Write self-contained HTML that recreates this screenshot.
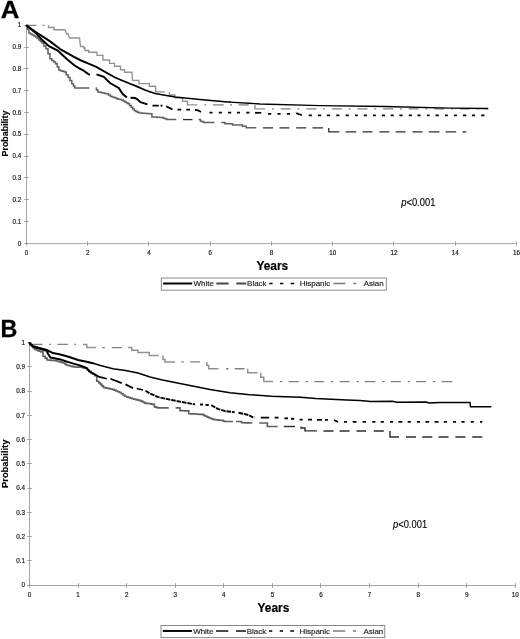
<!DOCTYPE html>
<html><head><meta charset="utf-8"><title>Figure</title>
<style>
html,body{margin:0;padding:0;background:#fff;}
body{width:520px;height:639px;overflow:hidden;font-family:"Liberation Sans",sans-serif;}
svg{display:block;font-family:"Liberation Sans",sans-serif;}
</style></head>
<body>
<svg width="520" height="639" viewBox="0 0 520 639">
<defs><filter id="soft" x="0" y="0" width="520" height="639" filterUnits="userSpaceOnUse"><feGaussianBlur stdDeviation="0.38"/></filter></defs>
<rect x="0" y="0" width="520" height="639" fill="#fff"/>
<g filter="url(#soft)">
<text transform="translate(0.7,17.6) scale(1.1,1)" font-size="23.4" font-weight="bold" fill="#000" stroke="#000" stroke-width="0.3">A</text>
<path d="M26.5,25.5 V243.6 H516.4" fill="none" stroke="#909090" stroke-width="0.8"/>
<path d="M24.2,243.50 H28.8" stroke="#909090" stroke-width="0.8"/>
<text x="21.3" y="245.50" text-anchor="end" font-size="6.3" fill="#1a1a1a" stroke="#1a1a1a" stroke-width="0.18">0</text>
<path d="M24.2,221.50 H28.8" stroke="#909090" stroke-width="0.8"/>
<text x="21.3" y="223.69" text-anchor="end" font-size="6.3" fill="#1a1a1a" stroke="#1a1a1a" stroke-width="0.18">0.1</text>
<path d="M24.2,199.50 H28.8" stroke="#909090" stroke-width="0.8"/>
<text x="21.3" y="201.88" text-anchor="end" font-size="6.3" fill="#1a1a1a" stroke="#1a1a1a" stroke-width="0.18">0.2</text>
<path d="M24.2,177.50 H28.8" stroke="#909090" stroke-width="0.8"/>
<text x="21.3" y="180.07" text-anchor="end" font-size="6.3" fill="#1a1a1a" stroke="#1a1a1a" stroke-width="0.18">0.3</text>
<path d="M24.2,156.50 H28.8" stroke="#909090" stroke-width="0.8"/>
<text x="21.3" y="158.26" text-anchor="end" font-size="6.3" fill="#1a1a1a" stroke="#1a1a1a" stroke-width="0.18">0.4</text>
<path d="M24.2,134.50 H28.8" stroke="#909090" stroke-width="0.8"/>
<text x="21.3" y="136.45" text-anchor="end" font-size="6.3" fill="#1a1a1a" stroke="#1a1a1a" stroke-width="0.18">0.5</text>
<path d="M24.2,112.50 H28.8" stroke="#909090" stroke-width="0.8"/>
<text x="21.3" y="114.64" text-anchor="end" font-size="6.3" fill="#1a1a1a" stroke="#1a1a1a" stroke-width="0.18">0.6</text>
<path d="M24.2,90.50 H28.8" stroke="#909090" stroke-width="0.8"/>
<text x="21.3" y="92.83" text-anchor="end" font-size="6.3" fill="#1a1a1a" stroke="#1a1a1a" stroke-width="0.18">0.7</text>
<path d="M24.2,68.50 H28.8" stroke="#909090" stroke-width="0.8"/>
<text x="21.3" y="71.02" text-anchor="end" font-size="6.3" fill="#1a1a1a" stroke="#1a1a1a" stroke-width="0.18">0.8</text>
<path d="M24.2,47.50 H28.8" stroke="#909090" stroke-width="0.8"/>
<text x="21.3" y="49.21" text-anchor="end" font-size="6.3" fill="#1a1a1a" stroke="#1a1a1a" stroke-width="0.18">0.9</text>
<path d="M24.2,25.50 H28.8" stroke="#909090" stroke-width="0.8"/>
<text x="21.3" y="27.40" text-anchor="end" font-size="6.3" fill="#1a1a1a" stroke="#1a1a1a" stroke-width="0.18">1</text>
<path d="M26.50,241.29999999999998 V245.9" stroke="#909090" stroke-width="0.8"/>
<text x="26.50" y="255.1" text-anchor="middle" font-size="6.3" fill="#1a1a1a" stroke="#1a1a1a" stroke-width="0.18">0</text>
<path d="M87.50,241.29999999999998 V245.9" stroke="#909090" stroke-width="0.8"/>
<text x="87.74" y="255.1" text-anchor="middle" font-size="6.3" fill="#1a1a1a" stroke="#1a1a1a" stroke-width="0.18">2</text>
<path d="M148.50,241.29999999999998 V245.9" stroke="#909090" stroke-width="0.8"/>
<text x="148.97" y="255.1" text-anchor="middle" font-size="6.3" fill="#1a1a1a" stroke="#1a1a1a" stroke-width="0.18">4</text>
<path d="M210.50,241.29999999999998 V245.9" stroke="#909090" stroke-width="0.8"/>
<text x="210.21" y="255.1" text-anchor="middle" font-size="6.3" fill="#1a1a1a" stroke="#1a1a1a" stroke-width="0.18">6</text>
<path d="M271.50,241.29999999999998 V245.9" stroke="#909090" stroke-width="0.8"/>
<text x="271.45" y="255.1" text-anchor="middle" font-size="6.3" fill="#1a1a1a" stroke="#1a1a1a" stroke-width="0.18">8</text>
<path d="M332.50,241.29999999999998 V245.9" stroke="#909090" stroke-width="0.8"/>
<text x="332.69" y="255.1" text-anchor="middle" font-size="6.3" fill="#1a1a1a" stroke="#1a1a1a" stroke-width="0.18">10</text>
<path d="M393.50,241.29999999999998 V245.9" stroke="#909090" stroke-width="0.8"/>
<text x="393.92" y="255.1" text-anchor="middle" font-size="6.3" fill="#1a1a1a" stroke="#1a1a1a" stroke-width="0.18">12</text>
<path d="M455.50,241.29999999999998 V245.9" stroke="#909090" stroke-width="0.8"/>
<text x="455.16" y="255.1" text-anchor="middle" font-size="6.3" fill="#1a1a1a" stroke="#1a1a1a" stroke-width="0.18">14</text>
<path d="M516.50,241.29999999999998 V245.9" stroke="#909090" stroke-width="0.8"/>
<text x="516.40" y="255.1" text-anchor="middle" font-size="6.3" fill="#1a1a1a" stroke="#1a1a1a" stroke-width="0.18">16</text>
<path d="M26.50,25.30 H36.30 M42.50,25.30 H44.50" fill="none" stroke="#808080" stroke-width="1.3" stroke-linejoin="miter" />
<path d="M48.50,25.30 L48.50,27.50 L54.00,27.50 L54.00,29.75 L65.00,29.75 L66.50,33.75 L68.00,33.75 L69.50,38.00 L79.50,38.00 L80.50,46.50 L83.75,46.50 L83.75,48.00 L85.00,48.00 L85.00,50.50 L88.75,50.50 L88.75,52.20 L97.00,52.20 L97.00,55.30 L103.00,55.30 L103.00,60.00 L109.50,60.00 L109.50,63.40 L114.50,63.40 L114.50,66.20 L120.50,66.20 L120.50,69.70 L124.50,69.70 L124.50,72.20 L132.00,72.20 L132.50,80.30 L139.00,80.30 L139.00,83.60 L149.40,83.60 L149.40,86.25 L155.60,86.25 L155.60,91.90 L165.00,91.90" fill="none" stroke="#929292" stroke-width="1.35" stroke-linejoin="miter" />
<path d="M169.40,91.90 L169.40,95.00 L175.00,95.00 L175.00,97.75 L182.50,97.75 L182.50,101.25 L187.50,101.25 L187.50,104.90 L197.50,104.90" fill="none" stroke="#929292" stroke-width="1.35" stroke-linejoin="miter" />
<path d="M204.40,104.90 H206.25 M213.00,104.90 H223.75 M230.00,104.90 H232.00 M238.75,104.90 H248.75" fill="none" stroke="#808080" stroke-width="1.3" stroke-linejoin="miter" />
<path d="M255.00,104.90 L255.00,108.90 L265.00,108.90" fill="none" stroke="#929292" stroke-width="1.35" stroke-linejoin="miter" />
<path d="M271.90,108.90 H273.90 M280.70,108.90 H290.70 M297.50,108.90 H299.50 M306.30,108.90 H316.30 M323.10,108.90 H325.10 M331.90,108.90 H341.90 M348.70,108.90 H350.70 M357.50,108.90 H367.50 M374.30,108.90 H376.30 M383.10,108.90 H393.10 M399.90,108.90 H401.90 M408.70,108.90 H418.70 M425.50,108.90 H427.50 M434.30,108.90 H444.30 M451.10,108.90 H453.10 M459.90,108.90 H469.90 M476.70,108.90 H478.70 M485.50,108.90 H487.50" fill="none" stroke="#808080" stroke-width="1.3" stroke-linejoin="miter" />
<path d="M26.50,25.50 L27.27,25.50 L27.27,29.25 L28.83,29.25 L28.83,33.00 L29.60,33.00 L30.46,33.00 L30.46,33.98 L32.19,33.98 L32.19,34.95 L33.91,34.95 L33.91,35.92 L35.64,35.92 L35.64,36.90 L36.50,36.90 L37.28,36.90 L37.28,38.45 L38.84,38.45 L38.84,40.00 L40.41,40.00 L40.41,41.55 L41.97,41.55 L41.97,43.10 L42.75,43.10 L43.81,43.10 L43.81,45.92 L45.94,45.92 L45.94,48.75 L47.00,48.75 L47.98,48.75 L47.98,53.75 L49.92,53.75 L49.92,58.75 L50.90,58.75 L51.83,58.75 L51.83,60.42 L53.70,60.42 L53.70,62.08 L55.57,62.08 L55.57,63.75 L56.50,63.75 L57.27,63.75 L57.27,66.88 L58.83,66.88 L58.83,70.00 L59.60,70.00 L60.54,70.00 L60.54,70.63 L62.42,70.63 L62.42,71.27 L64.31,71.27 L64.31,71.90 L65.25,71.90 L66.19,71.90 L66.19,74.70 L68.06,74.70 L68.06,77.50 L69.00,77.50 L69.94,77.50 L69.94,80.62 L71.81,80.62 L71.81,83.75 L72.75,83.75 L73.44,83.75 L73.44,85.88 L74.81,85.88 L74.81,88.00 L75.50,88.00 L89.40,88.00" fill="none" stroke="#606060" stroke-width="1.5" stroke-linejoin="miter" />
<path d="M95.60,88.00 L96.39,88.00 L96.39,89.95 L97.96,89.95 L97.96,91.90 L98.75,91.90 L99.62,91.90 L99.62,92.27 L101.38,92.27 L101.38,92.64 L103.12,92.64 L103.12,93.01 L104.88,93.01 L104.88,93.38 L106.62,93.38 L106.62,93.75 L107.50,93.75 L108.44,93.75 L108.44,95.00 L110.31,95.00 L110.31,96.25 L111.25,96.25 L112.03,96.25 L112.03,96.88 L113.59,96.88 L113.59,97.50 L115.16,97.50 L115.16,98.12 L116.72,98.12 L116.72,98.75 L117.50,98.75 L118.33,98.75 L118.33,99.17 L120.00,99.17 L120.00,99.58 L121.67,99.58 L121.67,100.00 L122.50,100.00 L123.28,100.00 L123.28,100.94 L124.84,100.94 L124.84,101.88 L126.41,101.88 L126.41,102.81 L127.97,102.81 L127.97,103.75 L128.75,103.75 L129.53,103.75 L129.53,105.46 L131.09,105.46 L131.09,107.17 L132.66,107.17 L132.66,108.89 L134.22,108.89 L134.22,110.60 L135.00,110.60 L135.83,110.60 L135.83,111.40 L137.50,111.40 L137.50,112.20 L139.17,112.20 L139.17,113.00 L140.00,113.00 L140.80,113.00 L140.80,113.11 L142.41,113.11 L142.41,113.21 L144.02,113.21 L144.02,113.32 L145.62,113.32 L145.62,113.43 L147.23,113.43 L147.23,113.54 L148.84,113.54 L148.84,113.64 L150.45,113.64 L150.45,113.75 L151.25,113.75 L151.88,113.75 L151.88,116.90 L152.50,116.90 L153.33,116.90 L153.33,117.00 L155.00,117.00 L155.00,117.10 L156.67,117.10 L156.67,117.20 L158.33,117.20 L158.33,117.30 L160.00,117.30 L160.00,117.40 L161.67,117.40 L161.67,117.50 L162.50,117.50 L163.33,117.50 L163.33,118.13 L165.00,118.13 L165.00,118.77 L166.67,118.77 L166.67,119.40 L167.50,119.40 L176.25,119.60" fill="none" stroke="#606060" stroke-width="1.5" stroke-linejoin="miter" />
<path d="M183.00,119.60 H192.50" fill="none" stroke="#2c2c2c" stroke-width="1.3" stroke-linejoin="miter" />
<path d="M198.75,119.60 L199.40,119.60 L200.45,119.60 L200.45,121.20 L201.50,121.20 L202.22,121.20 L202.22,121.85 L203.68,121.85 L203.68,122.50 L204.40,122.50 L214.40,122.50" fill="none" stroke="#606060" stroke-width="1.5" stroke-linejoin="miter" />
<path d="M221.25,122.50 L225.00,122.50 L225.00,123.75 L232.50,123.75 L232.50,125.00 L242.50,125.00 L242.50,126.25 L246.25,126.25 L246.25,127.80 L256.25,127.80" fill="none" stroke="#606060" stroke-width="1.5" stroke-linejoin="miter" />
<path d="M263.00,127.90 H273.00 M279.40,127.90 H289.40 M296.25,127.90 H306.25 M312.50,127.90 H323.00" fill="none" stroke="#2c2c2c" stroke-width="1.3" stroke-linejoin="miter" />
<path d="M328.75,127.90 L328.75,131.90 L339.40,131.90" fill="none" stroke="#2c2c2c" stroke-width="1.3" stroke-linejoin="miter" />
<path d="M345.60,131.90 H356.25 M362.50,131.90 H372.50 M379.40,131.90 H389.40 M395.60,131.90 H405.60 M412.50,131.90 H422.50 M428.75,131.90 H439.40 M445.60,131.90 H456.25 M462.50,131.90 H466.25" fill="none" stroke="#2c2c2c" stroke-width="1.3" stroke-linejoin="miter" />
<path d="M26.50,25.50 L36.50,33.75 L42.75,40.60 L49.00,46.25 L57.75,50.50 L66.50,58.75 L74.00,65.00 L80.00,68.75 L82.75,70.00 L88.00,73.85" fill="none" stroke="#000" stroke-width="2.0" stroke-linejoin="miter" stroke-linejoin="round"/>
<path d="M88.00,73.85 L88.75,74.40 L90.00,74.60" fill="none" stroke="#000" stroke-width="2.0" stroke-linejoin="miter" stroke-linejoin="round"/>
<path d="M96.50,74.40 L103.75,76.90 L110.00,83.00 L118.75,88.00 L122.50,93.75 L126.90,97.50" fill="none" stroke="#000" stroke-width="2.0" stroke-linejoin="miter" stroke-linejoin="round"/>
<path d="M130.60,97.75 L135.00,98.10 L137.00,99.00 L140.50,102.20 L147.50,104.40" fill="none" stroke="#000" stroke-width="2.0" stroke-linejoin="miter" stroke-linejoin="round"/>
<path d="M152.50,105.60 H158.75 M160.50,105.60 H162.50" fill="none" stroke="#000" stroke-width="1.75" stroke-linejoin="miter" />
<path d="M166.00,106.25 L172.50,109.40" fill="none" stroke="#000" stroke-width="1.8" stroke-linejoin="miter" stroke-linejoin="round"/>
<path d="M177.50,109.60 H181.25 M186.25,109.60 H190.00" fill="none" stroke="#000" stroke-width="1.75" stroke-linejoin="miter" />
<path d="M195.00,109.80 L198.00,110.30 L201.00,112.00" fill="none" stroke="#000" stroke-width="1.8" stroke-linejoin="miter" stroke-linejoin="round"/>
<path d="M209.40,112.50 H212.50 M218.75,112.50 H221.90 M228.00,112.50 H231.25 M236.90,112.50 H240.00 M246.25,112.50 H249.40" fill="none" stroke="#000" stroke-width="1.75" stroke-linejoin="miter" />
<path d="M255.00,112.80 H261.25" fill="none" stroke="#000" stroke-width="1.75" stroke-linejoin="miter" />
<path d="M268.00,113.75 H271.25 M277.50,113.75 H280.60 M286.90,113.75 H290.00" fill="none" stroke="#000" stroke-width="1.75" stroke-linejoin="miter" />
<path d="M296.25,113.10 L301.90,115.25" fill="none" stroke="#000" stroke-width="1.8" stroke-linejoin="miter" stroke-linejoin="round"/>
<path d="M308.75,115.40 H311.90 M318.00,115.40 H321.25 M326.90,115.40 H330.00 M336.25,115.40 H339.40 M345.60,115.40 H348.75 M355.00,115.40 H357.80 M363.75,115.40 H366.90 M373.00,115.40 H375.80 M381.90,115.40 H385.00 M390.60,115.40 H393.75 M399.40,115.40 H402.50 M408.75,115.40 H411.90 M417.50,115.40 H420.60 M426.90,115.40 H429.60 M435.60,115.40 H438.75 M445.00,115.40 H447.80 M454.20,115.40 H456.90 M463.00,115.40 H466.25 M471.90,115.40 H475.00 M481.25,115.40 H484.40" fill="none" stroke="#000" stroke-width="1.75" stroke-linejoin="miter" />
<path d="M26.50,25.50 L36.50,32.50 L49.00,40.60 L61.50,50.00 L74.00,56.90 L80.00,60.00 L85.00,62.12" fill="none" stroke="#000" stroke-width="2.0" stroke-linejoin="miter" stroke-linecap="round" stroke-linejoin="round"/>
<path d="M85.00,62.12 L96.25,66.90 L115.00,77.50 L130.00,83.75 L135.00,85.60 L145.00,90.00 L150.00,91.75" fill="none" stroke="#000" stroke-width="1.8" stroke-linejoin="miter" stroke-linecap="round" stroke-linejoin="round"/>
<path d="M150.00,91.75 L155.00,93.50 L175.00,96.90 L185.00,98.10 L200.00,99.50 L227.50,101.90 L230.00,102.06" fill="none" stroke="#000" stroke-width="1.55" stroke-linejoin="miter" stroke-linecap="round" stroke-linejoin="round"/>
<path d="M230.00,102.06 L260.00,104.00 L320.00,105.60 L385.00,106.50 L450.00,108.10 L487.75,108.50" fill="none" stroke="#000" stroke-width="1.35" stroke-linejoin="miter" stroke-linecap="round" stroke-linejoin="round"/>
<text transform="translate(8.4,133.5) rotate(-90)" text-anchor="middle" font-size="8.9" font-weight="bold" fill="#000" stroke="#000" stroke-width="0.12">Probability</text>
<text x="272.3" y="270" text-anchor="middle" font-size="11.9" font-weight="bold" fill="#000" stroke="#000" stroke-width="0.2">Years</text>
<text transform="translate(401.2,206.4) scale(0.94,1)" font-size="10" fill="#000" stroke="#000" stroke-width="0.12"><tspan font-style="italic">p</tspan>&lt;0.001</text>
<rect x="161.3" y="278" width="225" height="12.2" fill="#fff" stroke="#858585" stroke-width="0.95"/>
<path d="M163.10000000000002,283.5 H192.20000000000002" fill="none" stroke="#000" stroke-width="2.0" stroke-linejoin="miter" />
<text x="193.5" y="286.05" font-size="7.95" fill="#1a1a1a" stroke="#1a1a1a" stroke-width="0.15">White</text>
<path d="M216.3,283.5 H228.60000000000002 M236.3,283.5 H246.3" fill="none" stroke="#484848" stroke-width="1.9" stroke-linejoin="miter" />
<text x="247.10000000000002" y="286.05" font-size="7.95" fill="#1a1a1a" stroke="#1a1a1a" stroke-width="0.15">Black</text>
<path d="M269.3,283.5 H272.6 M280.0,283.5 H283.3 M290.6,283.5 H294.3" fill="none" stroke="#000" stroke-width="1.6" stroke-linejoin="miter" />
<text x="299.8" y="286.05" font-size="7.95" fill="#1a1a1a" stroke="#1a1a1a" stroke-width="0.15">Hispanic</text>
<path d="M333.3,283.5 H345.5 M353.3,283.5 H356.3" fill="none" stroke="#7c7c7c" stroke-width="1.4" stroke-linejoin="miter" />
<text x="363.70000000000005" y="286.05" font-size="7.95" fill="#1a1a1a" stroke="#1a1a1a" stroke-width="0.15">Asian</text>
<text x="0.4" y="336.8" font-size="23.3" font-weight="bold" fill="#000" stroke="#000" stroke-width="0.3">B</text>
<path d="M29.5,343 V585.5 H515.3" fill="none" stroke="#909090" stroke-width="0.8"/>
<path d="M27.2,585.50 H31.8" stroke="#909090" stroke-width="0.8"/>
<text x="24.9" y="587.40" text-anchor="end" font-size="6.3" fill="#1a1a1a" stroke="#1a1a1a" stroke-width="0.18">0</text>
<path d="M27.2,560.50 H31.8" stroke="#909090" stroke-width="0.8"/>
<text x="24.9" y="563.15" text-anchor="end" font-size="6.3" fill="#1a1a1a" stroke="#1a1a1a" stroke-width="0.18">0.1</text>
<path d="M27.2,536.50 H31.8" stroke="#909090" stroke-width="0.8"/>
<text x="24.9" y="538.90" text-anchor="end" font-size="6.3" fill="#1a1a1a" stroke="#1a1a1a" stroke-width="0.18">0.2</text>
<path d="M27.2,512.50 H31.8" stroke="#909090" stroke-width="0.8"/>
<text x="24.9" y="514.65" text-anchor="end" font-size="6.3" fill="#1a1a1a" stroke="#1a1a1a" stroke-width="0.18">0.3</text>
<path d="M27.2,488.50 H31.8" stroke="#909090" stroke-width="0.8"/>
<text x="24.9" y="490.40" text-anchor="end" font-size="6.3" fill="#1a1a1a" stroke="#1a1a1a" stroke-width="0.18">0.4</text>
<path d="M27.2,463.50 H31.8" stroke="#909090" stroke-width="0.8"/>
<text x="24.9" y="466.15" text-anchor="end" font-size="6.3" fill="#1a1a1a" stroke="#1a1a1a" stroke-width="0.18">0.5</text>
<path d="M27.2,439.50 H31.8" stroke="#909090" stroke-width="0.8"/>
<text x="24.9" y="441.90" text-anchor="end" font-size="6.3" fill="#1a1a1a" stroke="#1a1a1a" stroke-width="0.18">0.6</text>
<path d="M27.2,415.50 H31.8" stroke="#909090" stroke-width="0.8"/>
<text x="24.9" y="417.65" text-anchor="end" font-size="6.3" fill="#1a1a1a" stroke="#1a1a1a" stroke-width="0.18">0.7</text>
<path d="M27.2,391.50 H31.8" stroke="#909090" stroke-width="0.8"/>
<text x="24.9" y="393.40" text-anchor="end" font-size="6.3" fill="#1a1a1a" stroke="#1a1a1a" stroke-width="0.18">0.8</text>
<path d="M27.2,366.50 H31.8" stroke="#909090" stroke-width="0.8"/>
<text x="24.9" y="369.15" text-anchor="end" font-size="6.3" fill="#1a1a1a" stroke="#1a1a1a" stroke-width="0.18">0.9</text>
<path d="M27.2,342.50 H31.8" stroke="#909090" stroke-width="0.8"/>
<text x="24.9" y="344.90" text-anchor="end" font-size="6.3" fill="#1a1a1a" stroke="#1a1a1a" stroke-width="0.18">1</text>
<path d="M29.50,583.2 V587.8" stroke="#909090" stroke-width="0.8"/>
<text x="29.50" y="596.6" text-anchor="middle" font-size="6.3" fill="#1a1a1a" stroke="#1a1a1a" stroke-width="0.18">0</text>
<path d="M78.50,583.2 V587.8" stroke="#909090" stroke-width="0.8"/>
<text x="78.08" y="596.6" text-anchor="middle" font-size="6.3" fill="#1a1a1a" stroke="#1a1a1a" stroke-width="0.18">1</text>
<path d="M126.50,583.2 V587.8" stroke="#909090" stroke-width="0.8"/>
<text x="126.66" y="596.6" text-anchor="middle" font-size="6.3" fill="#1a1a1a" stroke="#1a1a1a" stroke-width="0.18">2</text>
<path d="M175.50,583.2 V587.8" stroke="#909090" stroke-width="0.8"/>
<text x="175.24" y="596.6" text-anchor="middle" font-size="6.3" fill="#1a1a1a" stroke="#1a1a1a" stroke-width="0.18">3</text>
<path d="M223.50,583.2 V587.8" stroke="#909090" stroke-width="0.8"/>
<text x="223.82" y="596.6" text-anchor="middle" font-size="6.3" fill="#1a1a1a" stroke="#1a1a1a" stroke-width="0.18">4</text>
<path d="M272.50,583.2 V587.8" stroke="#909090" stroke-width="0.8"/>
<text x="272.40" y="596.6" text-anchor="middle" font-size="6.3" fill="#1a1a1a" stroke="#1a1a1a" stroke-width="0.18">5</text>
<path d="M320.50,583.2 V587.8" stroke="#909090" stroke-width="0.8"/>
<text x="320.98" y="596.6" text-anchor="middle" font-size="6.3" fill="#1a1a1a" stroke="#1a1a1a" stroke-width="0.18">6</text>
<path d="M369.50,583.2 V587.8" stroke="#909090" stroke-width="0.8"/>
<text x="369.56" y="596.6" text-anchor="middle" font-size="6.3" fill="#1a1a1a" stroke="#1a1a1a" stroke-width="0.18">7</text>
<path d="M418.50,583.2 V587.8" stroke="#909090" stroke-width="0.8"/>
<text x="418.14" y="596.6" text-anchor="middle" font-size="6.3" fill="#1a1a1a" stroke="#1a1a1a" stroke-width="0.18">8</text>
<path d="M466.50,583.2 V587.8" stroke="#909090" stroke-width="0.8"/>
<text x="466.72" y="596.6" text-anchor="middle" font-size="6.3" fill="#1a1a1a" stroke="#1a1a1a" stroke-width="0.18">9</text>
<path d="M515.50,583.2 V587.8" stroke="#909090" stroke-width="0.8"/>
<text x="515.30" y="596.6" text-anchor="middle" font-size="6.3" fill="#1a1a1a" stroke="#1a1a1a" stroke-width="0.18">10</text>
<path d="M32.40,344.40 H42.40 M49.25,344.40 H51.10 M57.40,344.40 H68.00 M74.25,344.40 H76.10" fill="none" stroke="#808080" stroke-width="1.43" stroke-linejoin="miter" />
<path d="M83.00,344.40 L86.75,344.40 L86.75,347.60 L96.00,347.60" fill="none" stroke="#929292" stroke-width="1.49" stroke-linejoin="miter" />
<path d="M102.40,347.60 H104.90 M111.75,347.60 H121.75" fill="none" stroke="#808080" stroke-width="1.43" stroke-linejoin="miter" />
<path d="M128.00,347.60 L131.75,347.60 L131.75,350.25 L138.00,350.25 L138.00,352.50 L149.25,352.50 L149.25,355.60 L158.75,355.60" fill="none" stroke="#929292" stroke-width="1.49" stroke-linejoin="miter" />
<path d="M163.00,355.60 L163.00,359.40 L165.00,359.40 L165.00,361.90 L175.00,361.90" fill="none" stroke="#929292" stroke-width="1.49" stroke-linejoin="miter" />
<path d="M181.25,361.90 H183.75 M190.00,361.90 H200.00" fill="none" stroke="#808080" stroke-width="1.43" stroke-linejoin="miter" />
<path d="M206.90,361.90 L206.90,365.60 L208.75,365.60 L208.75,368.80 L218.50,368.80" fill="none" stroke="#929292" stroke-width="1.49" stroke-linejoin="miter" />
<path d="M226.00,368.80 H228.50 M234.60,368.80 H244.60" fill="none" stroke="#808080" stroke-width="1.43" stroke-linejoin="miter" />
<path d="M247.70,368.80 L247.70,372.70 L257.70,372.70" fill="none" stroke="#929292" stroke-width="1.49" stroke-linejoin="miter" />
<path d="M260.80,372.70 L260.80,377.30 L263.80,377.30 L263.80,381.50 L273.00,381.50" fill="none" stroke="#929292" stroke-width="1.49" stroke-linejoin="miter" />
<path d="M280.00,381.60 H282.30 M288.50,381.60 H298.80 M305.80,381.60 H308.00 M314.20,381.60 H324.20 M331.00,381.60 H333.50 M339.60,381.60 H349.60 M356.50,381.60 H358.80 M364.80,381.60 H375.40 M382.30,381.60 H384.60 M390.80,381.60 H400.80 M407.70,381.60 H410.00 M416.00,381.60 H426.00 M433.00,381.60 H435.40 M441.50,381.60 H452.30" fill="none" stroke="#808080" stroke-width="1.43" stroke-linejoin="miter" />
<path d="M29.50,343.10 L30.25,343.10 L30.25,344.68 L31.75,344.68 L31.75,346.25 L33.25,346.25 L33.25,347.82 L34.75,347.82 L34.75,349.40 L35.50,349.40 L36.28,349.40 L36.28,350.02 L37.84,350.02 L37.84,350.65 L39.41,350.65 L39.41,351.27 L40.97,351.27 L40.97,351.90 L41.75,351.90 L43.00,351.90 L43.00,356.25 L44.25,356.25 L45.19,356.25 L45.19,358.12 L47.06,358.12 L47.06,360.00 L48.00,360.00 L48.94,360.00 L48.94,360.15 L50.81,360.15 L50.81,360.30 L52.69,360.30 L52.69,360.45 L54.56,360.45 L54.56,360.60 L55.50,360.60 L56.33,360.60 L56.33,361.03 L58.00,361.03 L58.00,361.47 L59.67,361.47 L59.67,361.90 L60.50,361.90 L61.38,361.90 L61.38,362.45 L63.12,362.45 L63.12,363.00 L64.00,363.00 L64.69,363.00 L64.69,364.00 L66.06,364.00 L66.06,365.00 L66.75,365.00 L67.69,365.00 L67.69,365.48 L69.56,365.48 L69.56,365.95 L71.44,365.95 L71.44,366.42 L73.31,366.42 L73.31,366.90 L74.25,366.90 L75.19,366.90 L75.19,366.99 L77.06,366.99 L77.06,367.07 L78.94,367.07 L78.94,367.16 L80.81,367.16 L80.81,367.25 L81.75,367.25 L82.58,367.25 L82.58,367.67 L84.25,367.67 L84.25,368.08 L85.92,368.08 L85.92,368.50 L86.75,368.50 L87.38,368.50 L87.38,370.00 L88.00,370.00 L88.94,370.00 L88.94,371.40 L90.81,371.40 L90.81,372.80 L92.69,372.80 L92.69,374.20 L94.56,374.20 L94.56,375.60 L95.50,375.60 L96.75,375.60 L96.75,381.25 L98.00,381.25 L98.78,381.25 L98.78,382.81 L100.34,382.81 L100.34,384.38 L101.91,384.38 L101.91,385.94 L103.47,385.94 L103.47,387.50 L104.25,387.50 L105.12,387.50 L105.12,387.88 L106.88,387.88 L106.88,388.26 L108.62,388.26 L108.62,388.64 L110.38,388.64 L110.38,389.02 L112.12,389.02 L112.12,389.40 L113.00,389.40 L113.94,389.40 L113.94,390.17 L115.81,390.17 L115.81,390.95 L117.69,390.95 L117.69,391.73 L119.56,391.73 L119.56,392.50 L120.50,392.50 L121.33,392.50 L121.33,393.75 L123.00,393.75 L123.00,395.00 L124.67,395.00 L124.67,396.25 L125.50,396.25 L126.44,396.25 L126.44,396.88 L128.31,396.88 L128.31,397.50 L130.19,397.50 L130.19,398.12 L132.06,398.12 L132.06,398.75 L133.00,398.75 L133.94,398.75 L133.94,399.21 L135.81,399.21 L135.81,399.68 L137.69,399.68 L137.69,400.14 L139.56,400.14 L139.56,400.60 L140.50,400.60 L141.33,400.60 L141.33,401.43 L143.00,401.43 L143.00,402.27 L144.67,402.27 L144.67,403.10 L145.50,403.10 L146.25,403.10 L146.25,403.32 L147.75,403.32 L147.75,403.53 L149.25,403.53 L149.25,403.75 L150.00,403.75 L150.94,403.75 L150.94,404.07 L152.81,404.07 L152.81,404.40 L153.75,404.40 L154.38,404.40 L154.38,406.90 L155.00,406.90 L155.94,406.90 L155.94,407.40 L157.81,407.40 L157.81,407.90 L158.75,407.90 L168.75,407.90" fill="none" stroke="#606060" stroke-width="1.65" stroke-linejoin="miter" />
<path d="M175.60,407.90 L180.00,407.90 L180.00,410.60 L180.94,410.60 L180.94,410.68 L182.81,410.68 L182.81,410.75 L184.69,410.75 L184.69,410.82 L186.56,410.82 L186.56,410.90 L187.50,410.90 L188.75,410.90 L188.75,413.75 L190.00,413.75 L190.89,413.75 L190.89,413.84 L192.68,413.84 L192.68,413.94 L194.46,413.94 L194.46,414.03 L196.25,414.03 L196.25,414.12 L198.04,414.12 L198.04,414.21 L199.82,414.21 L199.82,414.31 L201.61,414.31 L201.61,414.40 L202.50,414.40 L203.44,414.40 L203.44,415.32 L205.31,415.32 L205.31,416.25 L206.25,416.25 L207.19,416.25 L207.19,417.12 L209.06,417.12 L209.06,418.00 L210.00,418.00 L210.77,418.00 L210.77,418.53 L212.30,418.53 L212.30,419.07 L213.83,419.07 L213.83,419.60 L214.60,419.60 L215.37,419.60 L215.37,419.76 L216.91,419.76 L216.91,419.92 L218.45,419.92 L218.45,420.08 L219.99,420.08 L219.99,420.24 L221.53,420.24 L221.53,420.40 L222.30,420.40 L223.08,420.40 L223.08,420.95 L224.62,420.95 L224.62,421.50 L225.40,421.50 L233.00,421.50" fill="none" stroke="#606060" stroke-width="1.65" stroke-linejoin="miter" />
<path d="M236.00,421.50 L240.80,421.50 L241.55,421.50 L241.55,422.70 L242.30,422.70 L243.13,422.70 L243.13,422.75 L244.80,422.75 L244.80,422.80 L246.47,422.80 L246.47,422.85 L248.13,422.85 L248.13,422.90 L249.80,422.90 L249.80,422.95 L251.47,422.95 L251.47,423.00 L252.30,423.00" fill="none" stroke="#606060" stroke-width="1.65" stroke-linejoin="miter" />
<path d="M259.20,423.00 L267.00,423.00 L267.35,423.00 L267.35,426.50 L267.70,426.50 L277.70,426.50" fill="none" stroke="#606060" stroke-width="1.65" stroke-linejoin="miter" />
<path d="M283.80,426.50 H295.00" fill="none" stroke="#2c2c2c" stroke-width="1.43" stroke-linejoin="miter" />
<path d="M301.00,426.50 L301.00,428.00 L305.00,428.00 L305.00,430.90 L317.00,430.90" fill="none" stroke="#2c2c2c" stroke-width="1.43" stroke-linejoin="miter" />
<path d="M323.50,431.00 H333.50 M339.60,431.00 H349.60 M356.50,431.00 H366.00 M373.80,431.00 H383.80" fill="none" stroke="#2c2c2c" stroke-width="1.43" stroke-linejoin="miter" />
<path d="M390.00,431.00 L390.00,437.00 L399.00,437.00" fill="none" stroke="#2c2c2c" stroke-width="1.43" stroke-linejoin="miter" />
<path d="M406.00,437.00 H416.00 M422.30,437.00 H432.30 M438.50,437.00 H448.50 M455.40,437.00 H465.40 M472.30,437.00 H482.30" fill="none" stroke="#2c2c2c" stroke-width="1.43" stroke-linejoin="miter" />
<path d="M29.50,343.10 L33.00,346.50 L46.75,350.80 L48.00,353.75 L50.50,357.50 L60.50,359.40 L65.50,361.25 L71.75,363.10 L80.50,365.60 L86.75,368.10 L89.25,371.30 L93.00,373.30" fill="none" stroke="#000" stroke-width="2.0" stroke-linejoin="miter" stroke-linejoin="round"/>
<path d="M93.00,373.30 L93.00,373.30 L99.25,376.90 L106.75,378.75" fill="none" stroke="#000" stroke-width="1.75" stroke-linejoin="miter" stroke-linejoin="round"/>
<path d="M110.50,378.75 L121.75,383.10" fill="none" stroke="#000" stroke-width="1.75" stroke-linejoin="miter" stroke-linejoin="round"/>
<path d="M125.50,384.40 L133.00,388.10" fill="none" stroke="#000" stroke-width="1.75" stroke-linejoin="miter" stroke-linejoin="round"/>
<path d="M136.75,388.50 L143.00,390.00" fill="none" stroke="#000" stroke-width="1.75" stroke-linejoin="miter" stroke-linejoin="round"/>
<path d="M145.50,390.80 L150.00,393.40 L157.50,396.90 L168.75,399.40 L181.25,401.90 L195.00,404.40" fill="none" stroke="#000" stroke-width="1.9" stroke-linejoin="miter" stroke-linejoin="round" stroke-dasharray="4.6 0.9"/>
<path d="M200.00,404.50 H203.00" fill="none" stroke="#000" stroke-width="1.93" stroke-linejoin="miter" />
<path d="M205.50,405.00 H208.75" fill="none" stroke="#000" stroke-width="1.93" stroke-linejoin="miter" />
<path d="M211.30,405.20 L217.70,408.80 L225.40,411.20 L234.60,412.20" fill="none" stroke="#000" stroke-width="1.9" stroke-linejoin="miter" stroke-linejoin="round" stroke-dasharray="4.6 0.9"/>
<path d="M238.50,412.70 L248.50,415.00 L253.00,417.30 L254.50,417.50" fill="none" stroke="#000" stroke-width="1.9" stroke-linejoin="miter" stroke-linejoin="round" stroke-dasharray="4.6 0.9"/>
<path d="M260.80,417.60 H269.20 M274.60,417.60 H278.50" fill="none" stroke="#000" stroke-width="1.93" stroke-linejoin="miter" />
<path d="M284.50,418.30 H288.00" fill="none" stroke="#000" stroke-width="1.93" stroke-linejoin="miter" />
<path d="M291.00,418.80 H294.20" fill="none" stroke="#000" stroke-width="1.93" stroke-linejoin="miter" />
<path d="M299.60,419.60 H302.70 M308.00,419.60 H312.00" fill="none" stroke="#000" stroke-width="1.93" stroke-linejoin="miter" />
<path d="M317.00,419.90 H322.00 M325.00,419.90 H328.00" fill="none" stroke="#000" stroke-width="1.93" stroke-linejoin="miter" />
<path d="M334.00,420.00 L338.00,422.00" fill="none" stroke="#000" stroke-width="1.9" stroke-linejoin="miter" stroke-linejoin="round" stroke-dasharray="4.6 0.9"/>
<path d="M344.00,421.90 H347.00 M352.70,421.90 H356.50 M362.50,421.90 H366.00 M372.30,421.90 H375.40 M380.80,421.90 H383.80 M390.00,421.90 H393.00 M398.50,421.90 H402.30 M407.70,421.90 H410.80 M417.00,421.90 H420.00 M425.40,421.90 H429.20 M434.60,421.90 H438.50 M443.80,421.90 H447.00 M453.00,421.90 H456.00 M461.50,421.90 H464.60 M470.80,421.90 H473.80 M480.00,421.90 H482.30" fill="none" stroke="#000" stroke-width="1.93" stroke-linejoin="miter" />
<path d="M29.50,343.10 L33.00,346.25 L46.75,350.00 L53.00,353.10 L60.50,354.40 L69.25,356.90 L78.00,360.00 L85.50,361.50 L93.00,363.30" fill="none" stroke="#000" stroke-width="2.1" stroke-linejoin="miter" stroke-linecap="round" stroke-linejoin="round"/>
<path d="M93.00,363.30 L93.00,363.30 L100.50,365.60 L113.00,368.75 L125.50,370.60 L138.00,373.10 L150.00,376.90 L162.50,380.00 L181.25,383.75 L200.00,387.50 L210.00,389.60 L230.00,392.70 L250.00,394.70 L271.50,396.20 L285.00,396.70 L300.00,397.28" fill="none" stroke="#000" stroke-width="1.55" stroke-linejoin="miter" stroke-linecap="round" stroke-linejoin="round"/>
<path d="M300.00,397.28 L300.40,397.30 L315.80,398.50 L331.00,399.20 L346.50,400.00 L360.00,400.40 L370.80,401.50 L392.30,401.20 L397.00,402.20 L426.00,402.00 L429.00,403.00 L440.00,402.50 L470.00,402.40 L470.50,406.80 L490.80,406.80" fill="none" stroke="#000" stroke-width="1.5" stroke-linejoin="miter" stroke-linecap="round" stroke-linejoin="round"/>
<text transform="translate(7.8,463.8) rotate(-90)" text-anchor="middle" font-size="9.4" font-weight="bold" fill="#000" stroke="#000" stroke-width="0.12">Probability</text>
<text x="273.4" y="612" text-anchor="middle" font-size="11.9" font-weight="bold" fill="#000" stroke="#000" stroke-width="0.2">Years</text>
<text transform="translate(393,527.6) scale(0.91,1)" font-size="10.3" fill="#000" stroke="#000" stroke-width="0.12"><tspan font-style="italic">p</tspan>&lt;0.001</text>
<rect x="161" y="625.5" width="223.8" height="12.1" fill="#fff" stroke="#858585" stroke-width="0.95"/>
<path d="M162.8,630.9499999999999 H191.9" fill="none" stroke="#000" stroke-width="2.0" stroke-linejoin="miter" />
<text x="193.2" y="633.4999999999999" font-size="7.95" fill="#1a1a1a" stroke="#1a1a1a" stroke-width="0.15">White</text>
<path d="M216,630.9499999999999 H228.3 M236,630.9499999999999 H246" fill="none" stroke="#484848" stroke-width="1.9" stroke-linejoin="miter" />
<text x="246.8" y="633.4999999999999" font-size="7.95" fill="#1a1a1a" stroke="#1a1a1a" stroke-width="0.15">Black</text>
<path d="M269,630.9499999999999 H272.3 M279.7,630.9499999999999 H283 M290.3,630.9499999999999 H294" fill="none" stroke="#000" stroke-width="1.6" stroke-linejoin="miter" />
<text x="299.5" y="633.4999999999999" font-size="7.95" fill="#1a1a1a" stroke="#1a1a1a" stroke-width="0.15">Hispanic</text>
<path d="M333,630.9499999999999 H345.2 M353,630.9499999999999 H356" fill="none" stroke="#7c7c7c" stroke-width="1.4" stroke-linejoin="miter" />
<text x="363.4" y="633.4999999999999" font-size="7.95" fill="#1a1a1a" stroke="#1a1a1a" stroke-width="0.15">Asian</text>
</g>
</svg>
</body></html>
